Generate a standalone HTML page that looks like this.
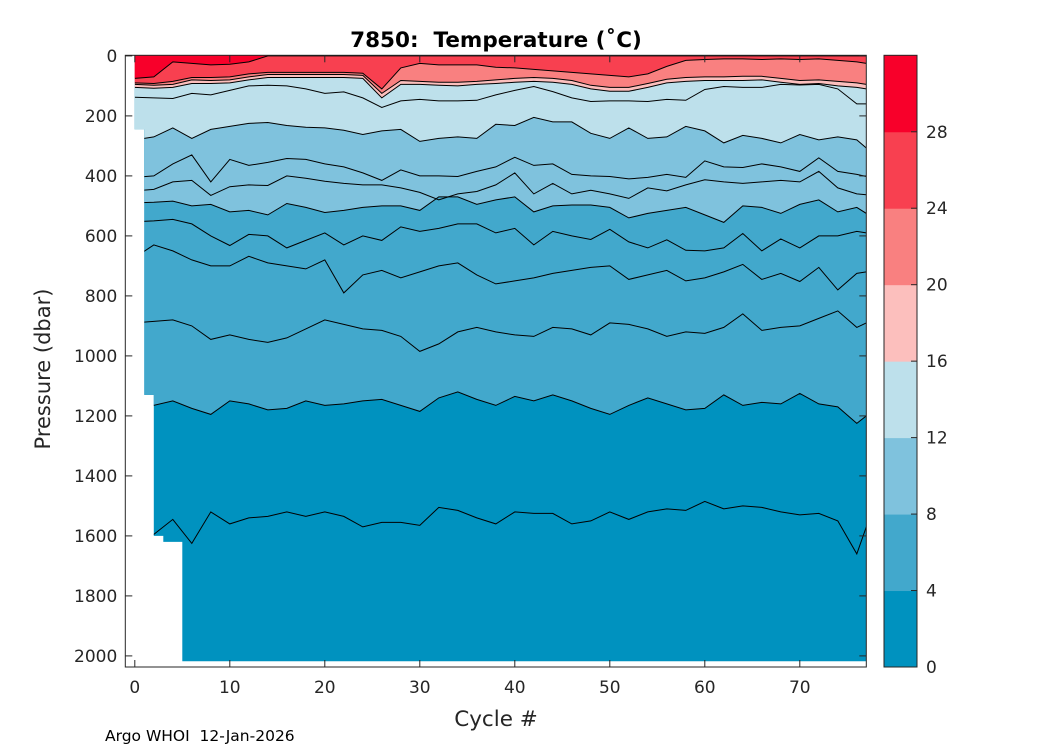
<!DOCTYPE html>
<html><head><meta charset="utf-8"><style>
body{margin:0;background:#fff;}
svg text{font-family:"DejaVu Sans","Liberation Sans",sans-serif;fill:#262626;white-space:pre;}
</style></head><body>
<svg id="chart" width="1050" height="750" viewBox="0 0 1050 750" xmlns="http://www.w3.org/2000/svg" xml:space="preserve">
<rect width="1050" height="750" fill="#fff"/>
<defs><clipPath id="dataclip"><polygon id="clipPoly"/></clipPath></defs>
<g id="fills" clip-path="url(#dataclip)"></g>
<g id="lines" clip-path="url(#dataclip)"></g>
<g id="axes"></g>
<text x="496" y="47" text-anchor="middle" font-size="21.5" font-weight="bold" style="fill:#000">7850:  Temperature (˚C)</text>
<text x="496" y="726" text-anchor="middle" font-size="21.5">Cycle #</text>
<text transform="translate(50,369) rotate(-90)" text-anchor="middle" font-size="21">Pressure (dbar)</text>
<text x="105" y="741" font-size="15.5" style="fill:#000">Argo WHOI  12-Jan-2026</text>
<g id="cbar"></g>
</svg>
<script>
const cycles=[0,2,4,6,8,10,12,14,16,18,20,22,24,26,28,30,32,34,36,38,40,42,44,46,48,50,52,54,56,58,60,62,64,66,68,70,72,74,76,77];
const L28=[75,70,20,25,30,28,20,0,0,0,0,0,0,0,0,0,0,0,0,0,0,0,0,0,0,0,0,0,0,0,0,0,0,0,0,0,0,0,0,0];
const L24=[90,92,85,72,72,70,60,55,55,55,55,55,58,110,40,25,30,30,30,38,40,45,50,55,60,65,70,60,35,15,12,10,10,12,10,12,10,15,20,25];
const L20=[95,98,95,80,82,80,70,62,62,62,62,62,65,125,82,85,88,88,85,80,75,72,75,82,98,105,105,92,78,72,70,70,68,68,75,82,80,85,90,95];
const L16=[105,108,105,92,92,90,80,72,72,72,72,72,75,140,95,95,98,100,95,92,88,85,88,95,110,118,118,105,90,85,82,82,82,80,88,95,92,100,105,110];
const L14=[138,140,142,125,130,115,100,98,100,110,125,120,140,172,150,145,150,150,148,130,115,102,119,140,152,150,150,152,145,148,112,102,105,105,95,97,95,110,160,160];
const L12=[280,270,240,275,245,235,225,222,232,238,240,248,262,250,245,285,275,270,275,228,232,205,220,220,258,275,240,275,270,235,250,290,265,275,290,262,280,270,280,307];
const L11=[405,400,360,330,420,345,365,355,342,345,360,370,390,415,380,400,400,402,385,370,338,365,360,395,400,402,410,405,395,405,350,370,372,360,370,385,340,385,395,402];
const L10=[450,445,420,415,465,436,430,432,400,408,418,425,430,430,440,455,480,460,452,430,390,460,425,460,448,460,475,440,450,430,413,420,425,420,415,420,385,440,460,463];
const L8=[490,488,484,500,495,520,515,530,492,505,522,515,505,500,500,515,470,470,495,480,470,520,500,497,497,505,540,525,515,505,530,555,500,505,525,495,480,520,505,525];
const L7=[553,550,545,560,600,632,595,600,640,615,590,630,600,615,570,585,575,560,560,590,575,630,585,600,612,578,620,640,613,648,650,640,592,650,610,640,600,600,585,590];
const L6=[672,630,650,680,700,700,668,690,700,710,680,790,730,715,740,720,700,690,730,760,750,740,725,715,705,700,745,730,715,750,740,720,695,745,725,752,705,780,725,720];
const L5=[890,885,880,900,945,930,945,955,940,910,880,895,910,915,935,985,960,920,905,920,930,935,905,910,930,890,895,910,935,920,925,905,860,915,905,900,875,850,905,890];
const L4=[1130,1165,1150,1175,1195,1150,1160,1180,1175,1150,1165,1160,1150,1145,1165,1185,1140,1120,1145,1165,1135,1150,1130,1150,1175,1195,1165,1140,1160,1180,1175,1130,1165,1155,1160,1125,1160,1170,1225,1200];
const L3=[1597,1595,1545,1625,1520,1560,1540,1535,1520,1535,1520,1535,1570,1555,1555,1565,1505,1515,1540,1560,1520,1525,1525,1560,1550,1520,1545,1520,1510,1515,1485,1510,1500,1505,1520,1530,1525,1550,1660,1570];
const profileCycles=[0,1,2,3,5,77];
const profileMaxP=[245,1130,1600,1620,2018,2018];
const cbTicks=[0,4,8,12,16,20,24,28];
const cbLevels=[0,4,8,12,16,20,24,28,32];
const cbColors=["#0092bf","#42a8cc","#7fc2dd","#bde0eb","#fcbfbd","#f98080","#f84050","#f8002a"];
const xTicks=[0,10,20,30,40,50,60,70];
const yTicks=[0,200,400,600,800,1000,1200,1400,1600,1800,2000];

const X0=125.3,X1=866.3,Y0=55.3,Y1=667;
const xd=[-1,77], yd=[-2,2037];
const sx=c=>X0+(c-xd[0])/(xd[1]-xd[0])*(X1-X0);
const sy=p=>Y0+(p-yd[0])/(yd[1]-yd[0])*(Y1-Y0);
const NS="http://www.w3.org/2000/svg";
function mk(tag,attrs,parent){const e=document.createElementNS(NS,tag);for(const k in attrs)e.setAttribute(k,attrs[k]);parent.appendChild(e);return e;}

let cp=[];
for(let i=0;i<profileCycles.length;i++){
  const x0=sx(profileCycles[i]);
  const x1=i<profileCycles.length-1?sx(profileCycles[i+1]):sx(profileCycles[i]);
  cp.push([x0,sy(profileMaxP[i])]);cp.push([x1,sy(profileMaxP[i])]);
}
cp.reverse();
cp.unshift([sx(77),sy(-2)]);cp.unshift([sx(0),sy(-2)]);
document.getElementById('clipPoly').setAttribute('points',cp.map(p=>p.join(',')).join(' '));

const fills=document.getElementById('fills');
const base=mk('rect',{x:X0,y:Y0,width:X1-X0,height:Y1-Y0,fill:cbColors[0]},fills);


const bands=[[L4,1,'band-4-8'],[L8,2,'band-8-12'],[L12,3,'band-12-16'],[L16,4,'band-16-20'],[L20,5,'band-20-24'],[L24,6,'band-24-28'],[L28,7,'band-28-32']];
function linePts(arr){return cycles.map((c,i)=>[sx(c),sy(arr[i])]);}
bands.forEach(([arr,ci,name])=>{
  const pts=linePts(arr);
  pts.push([sx(77)+2,sy(arr[arr.length-1])],[sx(77)+2,sy(-5)],[sx(0)-2,sy(-5)],[sx(0)-2,sy(arr[0])]);
  const pg=mk('polygon',{points:pts.map(p=>p.join(',')).join(' '),fill:cbColors[ci]},fills);
  
  
});
const lines=document.getElementById('lines');
[[L28,'28'],[L24,'24'],[L20,'20'],[L16,'16'],[L14,'14'],[L12,'12'],[L11,'11'],[L10,'10'],[L8,'8'],[L7,'7'],[L6,'6'],[L5,'5'],[L4,'4'],[L3,'3']].forEach(([arr,n])=>{
  if(arr.every(v=>v<=0))return;
  const pl=mk('polyline',{points:linePts(arr).map(p=>p.join(',')).join(' '),fill:'none',stroke:'#000','stroke-width':1},lines);
  
  
});

const ax=document.getElementById('axes');
const frame=mk('rect',{x:X0,y:Y0,width:X1-X0,height:Y1-Y0,fill:'none',stroke:'#262626','stroke-width':1},ax);


xTicks.forEach(t=>{
  const x=sx(t);
  mk('line',{x1:x,y1:Y1,x2:x,y2:Y1-7,stroke:'#262626'},ax);
  mk('line',{x1:x,y1:Y0,x2:x,y2:Y0+7,stroke:'#262626'},ax);
  const tx=mk('text',{x:x,y:Y1+26,'text-anchor':'middle','font-size':17},ax);
  tx.textContent=t;
  
  
});
yTicks.forEach(t=>{
  const y=sy(t);
  mk('line',{x1:X0,y1:y,x2:X0+7,y2:y,stroke:'#262626'},ax);
  mk('line',{x1:X1,y1:y,x2:X1-7,y2:y,stroke:'#262626'},ax);
  const tx=mk('text',{x:X0-8,y:y+6,'text-anchor':'end','font-size':17},ax);
  tx.textContent=t;
  
  
});

const cb=document.getElementById('cbar');
const CX=884,CW=33,CB0=667,CB1=55.3;
const cy=v=>CB0-(v-0)/(32-0)*(CB0-CB1);
for(let i=0;i<cbColors.length;i++){
  const r=mk('rect',{x:CX,y:cy(cbLevels[i+1]),width:CW,height:cy(cbLevels[i])-cy(cbLevels[i+1])+0.5,fill:cbColors[i]},cb);
  
  
}
mk('rect',{x:CX,y:CB1,width:CW,height:CB0-CB1,fill:'none',stroke:'#262626'},cb);
cbTicks.forEach(t=>{
  const y=cy(t);
  mk('line',{x1:CX+CW,y1:y,x2:CX+CW-6,y2:y,stroke:'#262626'},cb);
  const tx=mk('text',{x:CX+CW+9,y:y+6,'font-size':17},cb);
  tx.textContent=t;
  
  
});
</script>
</body></html>
